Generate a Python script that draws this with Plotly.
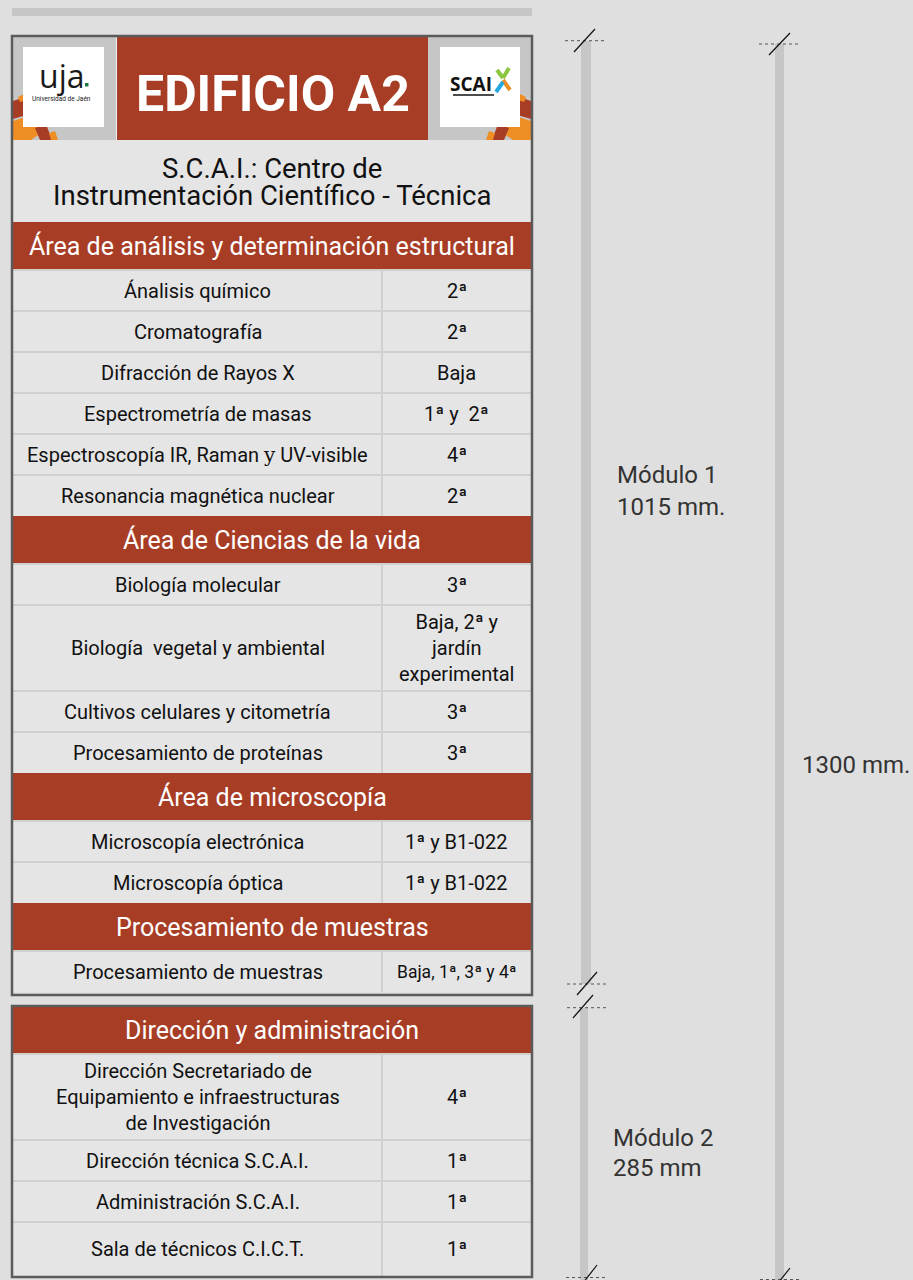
import plotly.graph_objects as go

# ---------------- data ----------------
building_title = "EDIFICIO A2"
subtitle_lines = ["S.C.A.I.: Centro de", "Instrumentación Científico - Técnica"]

section_titles = [
    "Área de análisis y determinación estructural",
    "Área de Ciencias de la vida",
    "Área de microscopía",
    "Procesamiento de muestras",
    "Dirección y administración",
]
section_module = [1, 1, 1, 1, 2]

services_analisis = [
    "Ánalisis químico",
    "Cromatografía",
    "Difracción de Rayos X",
    "Espectrometría de masas",
    "Espectroscopía IR, Raman <span style=\"font-family:'DejaVu Serif'\">y</span> UV-visible",
    "Resonancia magnética nuclear",
]
floors_analisis = ["2ª", "2ª", "Baja", "1ª y\u00a0\u00a02ª", "4ª", "2ª"]

services_vida = [
    "Biología molecular",
    "Biología\u00a0\u00a0vegetal y ambiental",
    "Cultivos celulares y citometría",
    "Procesamiento de proteínas",
]
floors_vida = ["3ª", "Baja, 2ª y<br>jardín<br>experimental", "3ª", "3ª"]

services_micro = ["Microscopía electrónica", "Microscopía óptica"]
floors_micro = ["1ª y B1-022", "1ª y B1-022"]

services_muestras = ["Procesamiento de muestras"]
floors_muestras = ["Baja, 1ª, 3ª y 4ª"]

services_direccion = [
    "Dirección Secretariado de<br>Equipamiento e infraestructuras<br>de Investigación",
    "Dirección técnica S.C.A.I.",
    "Administración S.C.A.I.",
    "Sala de técnicos C.I.C.T.",
]
floors_direccion = ["4ª", "1ª", "1ª", "1ª"]

section_services = [services_analisis, services_vida, services_micro, services_muestras, services_direccion]
section_floors = [floors_analisis, floors_vida, floors_micro, floors_muestras, floors_direccion]

module_labels = [["Módulo 1", "1015 mm."], ["Módulo 2", "285 mm"]]
total_label = "1300 mm."

# ---------------- style ----------------
BG = "#dfdfdf"
RED = "#a83d26"
ORANGE = "#ee8e24"
ROW_BG = "#e5e5e5"
SEP = "#d0d0d0"
BORDER = "#5b5b5b"
LGREY = "#c6c6c6"
FONT = "Roboto"
TXT = "#111111"

X0, X1, XC = 13, 531, 382
HEADER_H, ROW_H, LINE_H = 48, 41, 22.5

shapes = []
ann = []


def rect(x0, y0, x1, y1, fill, line_color=None, lw=0, layer="above"):
    shapes.append(dict(type="rect", xref="x", yref="y", x0=x0, y0=y0, x1=x1, y1=y1,
                       fillcolor=fill, line=dict(color=line_color or fill, width=lw), layer=layer))


def line(x0, y0, x1, y1, color, w=1, dash="solid"):
    shapes.append(dict(type="line", xref="x", yref="y", x0=x0, y0=y0, x1=x1, y1=y1,
                       line=dict(color=color, width=w, dash=dash)))


def poly(pts, color):
    path = "M " + " L ".join(f"{x},{y}" for x, y in pts) + " Z"
    shapes.append(dict(type="path", xref="x", yref="y", path=path, fillcolor=color,
                       line=dict(width=0, color=color)))


def text(x, y, t, size, color=TXT, anchor="center", bold=False, family=FONT):
    ann.append(dict(x=x, y=y, xref="x", yref="y", text=f"<b>{t}</b>" if bold else t,
                    showarrow=False, xanchor=anchor, yanchor="middle",
                    font=dict(family=family, size=size, color=color), align="center"))


# top bar
rect(12, 8, 532, 16, LGREY)

# ---------- header of panel 1 ----------
rect(13, 37, 531, 140, LGREY)
rect(117, 37, 428, 140, RED)
line(116.5, 37, 116.5, 140, "#f0f0f0", 1)
text(272.5, 94, building_title, 50, "white", bold=True)

# decorative sun fragments (left and mirrored right)
left_frags = [
    ([(13, 101), (28, 96), (33, 113), (13, 119)], RED),
    ([(13, 121), (38, 113), (44, 131), (31, 140), (13, 140)], ORANGE),
    ([(35, 128), (46, 124), (52, 140), (40, 140)], RED),
    ([(49, 133), (55, 131), (58, 140), (51, 140)], ORANGE),
    ([(18, 97), (24, 94), (26, 100), (20, 102)], ORANGE),
]
for pts, c in left_frags:
    poly(pts, c)
    poly([(544 - x, y) for x, y in pts], c)
# logo boxes on top of fragments
rect(23, 47, 104, 127, "white")
rect(440, 47, 520, 127, "white")
# UJA logo
text(61, 75, "uja", 32, "#1a1a1a", family="Open Sans")
rect(85, 83, 88.5, 86.5, "#1e7a3c")
text(61, 98.5, "Universidad de Jaén", 6.5, "#1a1a1a")
# SCAI logo
text(471, 84, "SCAI", 19, "#111111", bold=True, family="Open Sans")
line(453, 95, 494, 95, "#111111", 1.5)
line(497, 70, 503, 78, "#8cc63f", 4)
line(503, 78, 509, 68, "#8cc63f", 4)
line(503, 80, 510, 90, ORANGE, 4)
line(503, 82, 496, 92, "#29a8e0", 4)

# ---------- subtitle ----------
rect(13, 140, 531, 222, ROW_BG)
text(272, 168, subtitle_lines[0], 27.5)
text(272, 195, subtitle_lines[1], 27.5)


# ---------- sections ----------
def n_lines(s):
    return s.count("<br>") + 1


panel_end = {1: 995, 2: 1276}
cursor = {1: 222, 2: 1007}
for title, mod, servs, floors in zip(section_titles, section_module, section_services, section_floors):
    y = cursor[mod]
    hh = HEADER_H if mod == 1 else 47
    rect(X0, y, X1, y + hh, RED)
    text(272, y + hh / 2, title, 25, "white")
    y += hh
    for i, (s, f) in enumerate(zip(servs, floors)):
        h = ROW_H + LINE_H * (max(n_lines(s), n_lines(f)) - 1)
        if mod == 2 and i == len(servs) - 1:
            h = panel_end[mod] - y
        rect(X0, y, X1, y + h, ROW_BG)
        line(X0, y, X1, y, SEP, 2)
        line(XC, y, XC, y + h, SEP, 2)
        text(197.5, y + h / 2, s, 20)
        if f == "Baja, 1ª, 3ª y 4ª":
            text(456.5, y + h / 2, f, 17.5)
        else:
            text(456.5, y + h / 2, f, 20)
        y += h
    cursor[mod] = y

# panel borders
shapes.append(dict(type="rect", xref="x", yref="y", x0=12, y0=36, x1=532, y1=995,
                   line=dict(color=BORDER, width=2.5), fillcolor="rgba(0,0,0,0)"))
shapes.append(dict(type="rect", xref="x", yref="y", x0=12, y0=1006, x1=532, y1=1277,
                   line=dict(color=BORDER, width=2.5), fillcolor="rgba(0,0,0,0)"))

# ---------- dimension bars ----------
rect(581, 41, 591, 984, LGREY)
rect(580, 1008, 588, 1280, LGREY)
rect(775, 44, 784, 1280, LGREY)


def brk(y, xa, xb, s0, s1):
    line(xa, y, xb, y, "#555555", 1, "dot")
    line(s0[0], s0[1], s1[0], s1[1], "#111111", 1.2)


brk(40.7, 565, 605, (574, 52), (595, 29))
brk(44, 759, 800, (769, 55), (790, 33))
brk(984, 567, 607, (577, 995), (597, 972))
brk(1007.7, 567, 607, (573, 1018), (593, 995))
brk(1277.5, 566, 606, (583, 1283), (597, 1265))
brk(1279.5, 760, 800, (778, 1283), (790, 1268))

text(615, 475, module_labels[0][0], 24, "#333333", anchor="left")
text(615, 507, module_labels[0][1], 24, "#333333", anchor="left")
text(800, 765, total_label, 24, "#333333", anchor="left")
text(611, 1138, module_labels[1][0], 24, "#333333", anchor="left")
text(611, 1168, module_labels[1][1], 24, "#333333", anchor="left")

fig = go.Figure(go.Scatter(x=[0], y=[0], mode="markers", marker=dict(opacity=0), hoverinfo="skip", showlegend=False))
fig.update_layout(
    width=913, height=1280,
    margin=dict(l=0, r=0, t=0, b=0),
    paper_bgcolor=BG, plot_bgcolor=BG,
    shapes=shapes, annotations=ann, showlegend=False,
    xaxis=dict(range=[0, 913], visible=False, fixedrange=True),
    yaxis=dict(range=[1280, 0], visible=False, fixedrange=True),
)
fig.write_html("out.html", config={"displayModeBar": False},
               post_script="document.body.style.margin='0';document.body.style.background='#dfdfdf';document.body.style.overflow='hidden';")
